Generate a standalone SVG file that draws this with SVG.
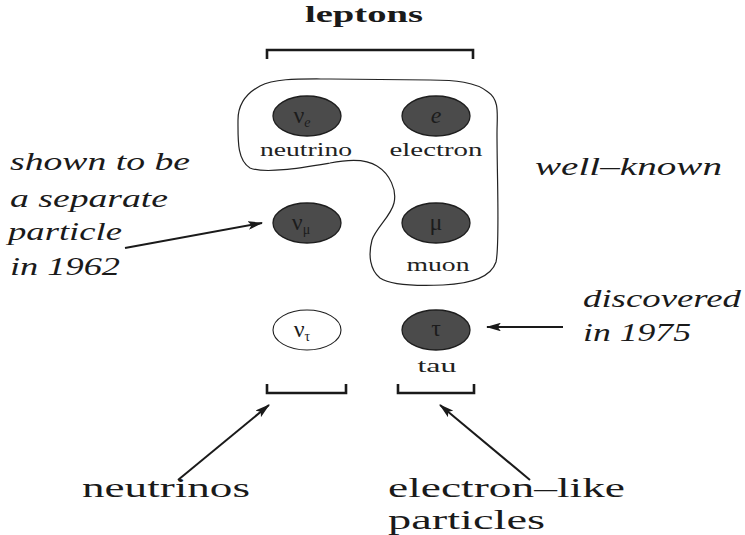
<svg xmlns="http://www.w3.org/2000/svg" width="745" height="535" viewBox="0 0 745 535">
<style>
.p{fill:#4b4b4b;stroke:#1e1e1e;stroke-width:1.3}
.pw{fill:#ffffff;stroke:#1e1e1e;stroke-width:1.1}
.serif{font-family:'Liberation Serif','Times New Roman','DejaVu Serif',serif}
.sym{font-size:24px;fill:#1c1c1c;text-anchor:middle}
.sub{font-size:14px;fill:#1c1c1c}
.lab{font-size:19px;fill:#222;text-anchor:middle}
.it{font-family:'Liberation Serif','Times New Roman',serif;font-style:italic;font-size:25px;fill:#1a1a1a}
.big{font-size:28px;fill:#1a1a1a}
.br{fill:none;stroke:#1a1a1a;stroke-width:2.6}
.ln{fill:none;stroke:#1a1a1a;stroke-width:2;marker-end:url(#ah)}
</style>
<defs>
<marker id="ah" viewBox="0 0 14 8" refX="13" refY="4" markerWidth="7.5" markerHeight="4.3" orient="auto" markerUnits="strokeWidth">
<path d="M0,0 L14,4 L0,8 L3,4 Z" fill="#1a1a1a"/>
</marker>
</defs>
<rect width="745" height="535" fill="#ffffff"/>

<g id="title">
<text class="serif" x="364" y="22" font-weight="bold" font-size="23" fill="#1a1a1a" text-anchor="middle" textLength="118" lengthAdjust="spacingAndGlyphs">leptons</text>
</g>

<g id="brackets">
<path class="br" d="M267,59 V50 H473 V59"/>
<path class="br" d="M267,384 V393 H346 V384"/>
<path class="br" d="M398,384 V393 H474 V384"/>
</g>

<g id="well-known-group">
<path d="M238,120 C238,140 237,160 250,168 C265,174 300,168 330,163 C345,160 365,158 377,166 C390,174 397,190 394,203 C391,216 376,228 372,240 C368,255 370,270 380,278 C392,286 420,286 443,285 C465,284 490,280 496,262 C500,245 497,180 497,133 C497,115 500,100 488,92 C476,82 455,80 430,80 L330,79 C300,79 275,78 260,86 C245,94 238,105 238,120 Z" fill="none" stroke="#222" stroke-width="1.2"/>
</g>

<g id="nu-e">
<ellipse class="p" cx="307" cy="116" rx="34" ry="20"/>
<text class="serif sym" x="302" y="123">ν<tspan class="sub" dy="4" font-style="italic">e</tspan></text>
<text class="serif lab" x="306" y="156" textLength="92" lengthAdjust="spacingAndGlyphs">neutrino</text>
</g>

<g id="electron">
<ellipse class="p" cx="436" cy="116" rx="34" ry="20"/>
<text class="serif sym" x="436" y="123" font-style="italic">e</text>
<text class="serif lab" x="436" y="156" textLength="93" lengthAdjust="spacingAndGlyphs">electron</text>
</g>

<g id="nu-mu">
<ellipse class="p" cx="307" cy="223" rx="34" ry="20"/>
<text class="serif sym" x="301" y="230">ν<tspan class="sub" dy="4">μ</tspan></text>
</g>

<g id="muon">
<ellipse class="p" cx="436" cy="223" rx="34" ry="20"/>
<text class="serif sym" x="436" y="230">μ</text>
<text class="serif lab" x="438" y="271" textLength="63" lengthAdjust="spacingAndGlyphs">muon</text>
</g>

<g id="nu-tau">
<ellipse class="pw" cx="307" cy="330" rx="34" ry="20"/>
<text class="serif sym" x="302" y="337">ν<tspan class="sub" dy="4">τ</tspan></text>
</g>

<g id="tau">
<ellipse class="p" cx="436" cy="330" rx="34" ry="20"/>
<text class="serif sym" x="436" y="336">τ</text>
<text class="serif lab" x="437" y="372" textLength="39" lengthAdjust="spacingAndGlyphs">tau</text>
</g>

<g id="note-1962">
<text class="it" x="10" y="170" textLength="180" lengthAdjust="spacingAndGlyphs">shown to be</text>
<text class="it" x="10" y="207" textLength="158" lengthAdjust="spacingAndGlyphs">a separate</text>
<text class="it" x="8" y="240" textLength="114" lengthAdjust="spacingAndGlyphs">particle</text>
<text class="it" x="10" y="275" textLength="110" lengthAdjust="spacingAndGlyphs">in 1962</text>
</g>

<g id="note-well-known">
<text class="it" x="535" y="175" textLength="187" lengthAdjust="spacingAndGlyphs">well–known</text>
</g>

<g id="note-1975">
<text class="it" x="583" y="307" textLength="158" lengthAdjust="spacingAndGlyphs">discovered</text>
<text class="it" x="583" y="341" textLength="108" lengthAdjust="spacingAndGlyphs">in 1975</text>
</g>

<g id="label-neutrinos">
<text class="serif big" x="82" y="497" textLength="168" lengthAdjust="spacingAndGlyphs">neutrinos</text>
</g>

<g id="label-electron-like">
<text class="serif big" x="388" y="497" textLength="237" lengthAdjust="spacingAndGlyphs">electron–like</text>
<text class="serif big" x="388" y="529" textLength="157" lengthAdjust="spacingAndGlyphs">particles</text>
</g>

<g id="connectors">
<line class="ln" x1="125" y1="248" x2="262" y2="223"/>
<line class="ln" x1="563" y1="327" x2="487" y2="327"/>
<line class="ln" x1="178" y1="480" x2="269" y2="405"/>
<line class="ln" x1="530" y1="480" x2="440" y2="405"/>
</g>
</svg>
